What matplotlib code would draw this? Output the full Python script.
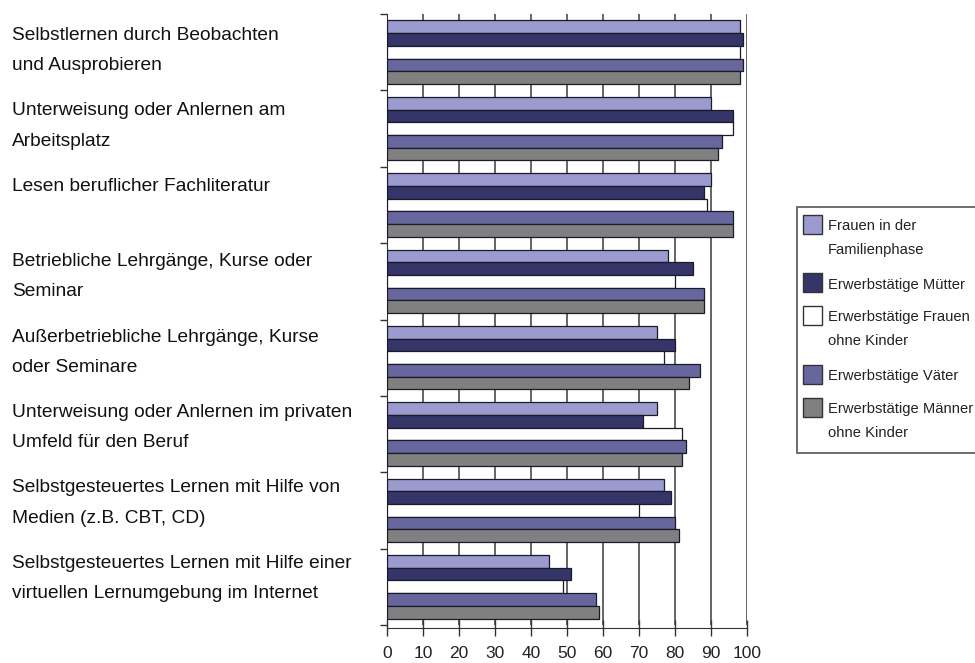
import numpy as np
import matplotlib
matplotlib.use("Agg")
import matplotlib.pyplot as plt
from matplotlib.patches import Rectangle

plt.rcParams["font.family"] = ["Liberation Sans", "DejaVu Sans"]

# DATEN
kategorien = [
    "Selbstlernen durch Beobachten\nund Ausprobieren",
    "Unterweisung oder Anlernen am\nArbeitsplatz",
    "Lesen beruflicher Fachliteratur",
    "Betriebliche Lehrgänge, Kurse oder\nSeminar",
    "Außerbetriebliche Lehrgänge, Kurse\noder Seminare",
    "Unterweisung oder Anlernen im privaten\nUmfeld für den Beruf",
    "Selbstgesteuertes Lernen mit Hilfe von\nMedien (z.B. CBT, CD)",
    "Selbstgesteuertes Lernen mit Hilfe einer\nvirtuellen Lernumgebung im Internet",
]
serien = [
    "Frauen in der\nFamilienphase",
    "Erwerbstätige Mütter",
    "Erwerbstätige Frauen\nohne Kinder",
    "Erwerbstätige Väter",
    "Erwerbstätige Männer\nohne Kinder",
]
frauen_familienphase = [98, 90, 90, 78, 75, 75, 77, 45]
muetter = [99, 96, 88, 85, 80, 71, 79, 51]
frauen_ohne_kinder = [98, 96, 89, 80, 77, 82, 70, 49]
vaeter = [99, 93, 96, 88, 87, 83, 80, 58]
maenner_ohne_kinder = [98, 92, 96, 88, 84, 82, 81, 59]
werte = [frauen_familienphase, muetter, frauen_ohne_kinder, vaeter, maenner_ohne_kinder]
x_ticks = list(range(0, 101, 10))

farben = ["#9b9bcf", "#35356a", "#ffffff", "#67679d", "#808080"]

W, H = 975, 663

def fx(px):
    return px / W

def fy(py):
    return 1 - py / H

fig = plt.figure(figsize=(W / 100, H / 100), dpi=100)
ax = fig.add_axes([fx(387), fy(625), (747 - 387) / W, (625 - 14) / H])

# BALKEN
y = np.arange(len(kategorien))
h = 0.166
for j, (vals, farbe) in enumerate(zip(werte, farben)):
    ax.barh(y + (j - 2) * h, vals, height=h, color=farbe,
            edgecolor="#1a1a2a", linewidth=0.9, zorder=3)

ax.set_xlim(0, 100)
ax.set_ylim(len(kategorien) - 0.5, -0.5)
ax.set_xticks(x_ticks)
ax.set_yticks(np.arange(len(kategorien) + 1) - 0.5)
ax.set_yticklabels([])
ax.tick_params(axis="y", direction="out", length=5, width=1, color="#333333")
ax.tick_params(axis="x", direction="inout", length=12, width=1, color="#333333",
               pad=7, labelsize=12.5, labelcolor="#222222")
ax.xaxis.grid(True, color="#3a3a3a", linewidth=1.1, zorder=0)
ax.set_axisbelow(True)
for s in ["top", "right"]:
    ax.spines[s].set_visible(False)
ax.spines["left"].set_color("#333333")
ax.spines["bottom"].set_color("#333333")
ax.spines["bottom"].set_position(("outward", 2))

# KATEGORIE-BESCHRIFTUNG
for i, k in enumerate(kategorien):
    fig.text(fx(12), fy(27 + 75.4 * i), k, ha="left", va="top",
             fontsize=13.8, linespacing=2.02, color="#111111")

# LEGENDE
fig.patches.append(Rectangle((fx(797), fy(453)), fx(200), (453 - 207) / H,
                             transform=fig.transFigure, facecolor="white",
                             edgecolor="#555555", linewidth=1.2))
ypos = 224
for name, farbe in zip(serien, farben):
    fig.patches.append(Rectangle((fx(803), fy(ypos + 9.5)), 19 / W, 19 / H,
                                 transform=fig.transFigure, facecolor=farbe,
                                 edgecolor="#333333", linewidth=1.0))
    fig.text(fx(828), fy(ypos - 5), name, ha="left", va="top", fontsize=10.6,
             linespacing=1.9, color="#222222")
    ypos += name.count("\n") * 25.5 + 33

plt.savefig("out.png", dpi=100)
